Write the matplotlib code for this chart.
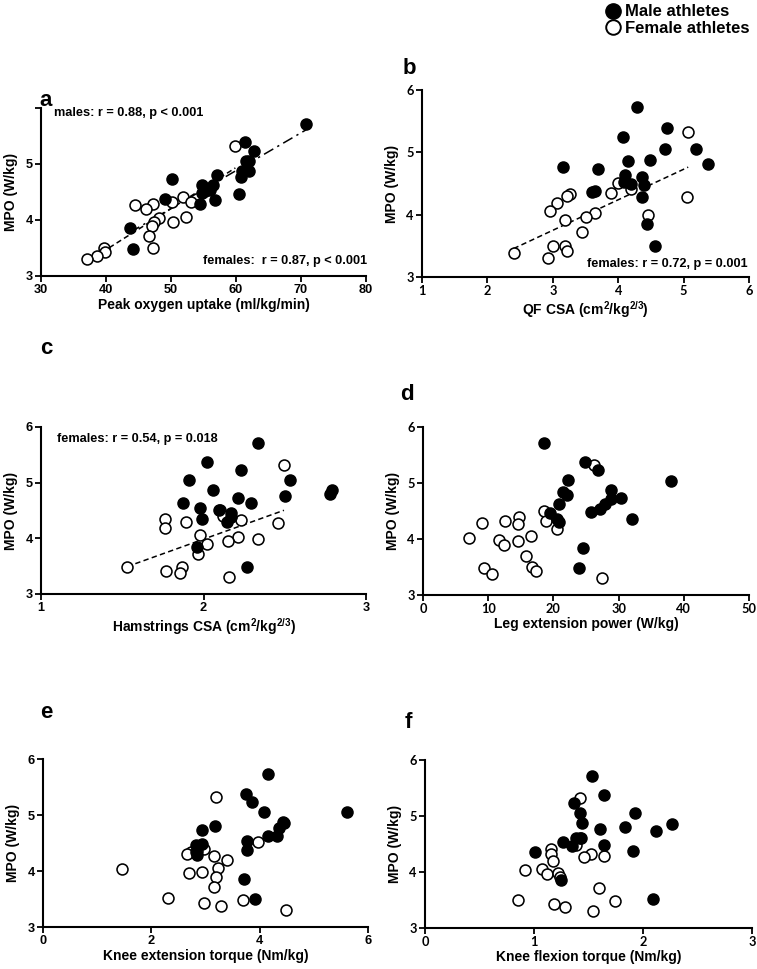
import numpy as np
import matplotlib
matplotlib.use('Agg')
import matplotlib.pyplot as plt
from matplotlib.lines import Line2D

plt.rcParams['font.family'] = ['Liberation Sans', 'DejaVu Sans']
plt.rcParams['font.weight'] = 'bold'
plt.rcParams['mathtext.fontset'] = 'custom'
plt.rcParams['mathtext.rm'] = 'Liberation Sans:bold'
plt.rcParams['mathtext.bf'] = 'Liberation Sans:bold'

# ---------------- data ----------------
# a: Peak oxygen uptake
a_m_x = [70.8, 61.4, 62.7, 61.6, 62.0, 60.9, 62.0, 60.8, 60.5, 57.0, 56.5, 54.7, 56.0, 54.7, 56.7, 54.4, 50.2, 49.1, 43.7, 44.1]
a_m_y = [5.72, 5.39, 5.24, 5.05, 5.05, 4.87, 4.87, 4.76, 4.46, 4.80, 4.63, 4.62, 4.53, 4.49, 4.36, 4.28, 4.73, 4.37, 3.85, 3.49]
a_f_x = [59.9, 51.9, 53.0, 50.2, 44.4, 47.3, 46.2, 52.3, 48.1, 47.4, 47.1, 50.3, 46.6, 47.3, 39.7, 39.9, 38.6, 37.1, 55.3]
a_f_y = [5.32, 4.41, 4.33, 4.33, 4.27, 4.29, 4.19, 4.06, 4.04, 3.97, 3.90, 3.96, 3.71, 3.50, 3.50, 3.42, 3.36, 3.30, 4.51]

# b: QF CSA
b_m_x = [4.29, 4.74, 4.08, 4.71, 5.19, 5.37, 4.15, 4.48, 3.16, 3.69, 4.11, 4.36, 4.09, 4.20, 4.40, 3.60, 3.64, 4.36, 4.44, 4.56]
b_m_y = [5.72, 5.39, 5.24, 5.05, 5.05, 4.81, 4.86, 4.87, 4.76, 4.73, 4.63, 4.61, 4.53, 4.50, 4.47, 4.36, 4.38, 4.29, 3.85, 3.50]
b_f_x = [5.07, 5.05, 4.00, 4.20, 3.89, 3.27, 3.21, 3.07, 2.96, 3.64, 3.50, 3.18, 4.46, 3.45, 3.00, 3.18, 3.21, 2.93, 2.40]
b_f_y = [5.32, 4.28, 4.51, 4.41, 4.34, 4.33, 4.30, 4.19, 4.06, 4.03, 3.96, 3.91, 3.99, 3.72, 3.49, 3.50, 3.42, 3.31, 3.39]

# c: Hamstrings CSA
c_m_x = [2.337, 2.02, 2.23, 1.913, 2.532, 2.056, 2.79, 2.78, 2.50, 2.21, 1.876, 2.29, 1.978, 2.095, 2.17, 2.17, 1.99, 2.147, 1.962, 2.27]
c_m_y = [5.71, 5.38, 5.23, 5.05, 5.05, 4.87, 4.86, 4.80, 4.76, 4.73, 4.63, 4.63, 4.54, 4.51, 4.46, 4.39, 4.35, 4.29, 3.84, 3.49]
c_f_x = [2.495, 2.10, 2.12, 1.763, 1.763, 1.89, 2.23, 2.46, 1.98, 2.21, 2.15, 2.333, 2.02, 1.964, 1.53, 1.868, 1.771, 1.853, 2.159]
c_f_y = [5.32, 4.51, 4.41, 4.34, 4.18, 4.30, 4.33, 4.28, 4.06, 4.03, 3.96, 3.98, 3.90, 3.72, 3.49, 3.49, 3.42, 3.38, 3.30]

# d: Leg extension power
d_m_x = [18.6, 24.9, 26.9, 22.3, 38.0, 21.5, 22.1, 28.8, 30.3, 28.8, 27.9, 20.8, 27.2, 25.8, 19.5, 20.6, 32.1, 24.5, 23.9, 20.8]
d_m_y = [5.71, 5.37, 5.23, 5.05, 5.04, 4.84, 4.79, 4.87, 4.74, 4.72, 4.63, 4.62, 4.54, 4.48, 4.46, 4.35, 4.36, 3.84, 3.49, 4.31]
d_f_x = [26.2, 18.6, 18.9, 20.5, 14.8, 14.5, 12.5, 9.1, 7.1, 11.6, 12.4, 14.5, 16.6, 15.8, 9.4, 10.6, 16.7, 17.3, 27.5]
d_f_y = [5.32, 4.50, 4.32, 4.18, 4.40, 4.26, 4.33, 4.29, 4.02, 3.98, 3.90, 3.96, 4.05, 3.70, 3.49, 3.38, 3.50, 3.42, 3.30]

# e: Knee extension torque
e_m_x = [4.15, 3.745, 3.86, 4.08, 5.62, 4.45, 4.43, 4.35, 3.18, 2.93, 4.15, 4.325, 3.77, 2.93, 2.83, 3.77, 2.82, 2.85, 3.71, 3.92]
e_m_y = [5.73, 5.38, 5.24, 5.05, 5.05, 4.86, 4.87, 4.76, 4.80, 4.73, 4.62, 4.62, 4.54, 4.49, 4.46, 4.37, 4.34, 4.29, 3.86, 3.50]
e_f_x = [3.195, 3.97, 2.975, 2.74, 2.66, 3.16, 3.39, 3.23, 1.466, 2.93, 2.69, 3.195, 3.16, 2.31, 2.98, 3.28, 3.70, 4.48, 2.85]
e_f_y = [5.32, 4.51, 4.40, 4.34, 4.30, 4.26, 4.19, 4.06, 4.03, 3.98, 3.96, 3.90, 3.71, 3.51, 3.43, 3.38, 3.49, 3.31, 4.36]

# f: Knee flexion torque
f_m_x = [1.53, 1.64, 1.37, 1.42, 1.93, 1.44, 2.27, 1.835, 1.61, 2.12, 1.385, 1.43, 1.27, 1.35, 1.64, 1.01, 1.905, 1.25, 2.09, 1.42]
f_m_y = [5.72, 5.38, 5.24, 5.05, 5.05, 4.87, 4.86, 4.80, 4.76, 4.73, 4.61, 4.61, 4.53, 4.46, 4.49, 4.36, 4.37, 3.85, 3.51, 4.60]
f_f_x = [1.425, 1.385, 1.153, 1.156, 1.17, 1.52, 1.46, 1.64, 0.92, 1.07, 1.12, 1.22, 1.24, 1.60, 0.85, 1.18, 1.28, 1.54, 1.74]
f_f_y = [5.32, 4.49, 4.41, 4.33, 4.19, 4.33, 4.27, 4.28, 4.03, 4.05, 3.96, 3.98, 3.91, 3.71, 3.50, 3.43, 3.38, 3.31, 3.49]

panel_letters = ['a', 'b', 'c', 'd', 'e', 'f']
x_labels = ['Peak oxygen uptake (ml/kg/min)',
            r'QF CSA (cm$^{2}$/kg$^{2/3}$)',
            r'Hamstrings CSA (cm$^{2}$/kg$^{2/3}$)',
            'Leg extension power (W/kg)',
            'Knee extension torque (Nm/kg)',
            'Knee flexion torque (Nm/kg)']
y_label = 'MPO (W/kg)'
x_ticks = [[30, 40, 50, 60, 70, 80], [1, 2, 3, 4, 5, 6], [1, 2, 3],
           [0, 10, 20, 30, 40, 50], [0, 2, 4, 6], [0, 1, 2, 3]]
y_ticks = [3, 4, 5, 6]
legend_labels = ['Male athletes', 'Female athletes']

# ---------------- figure ----------------
W, H = 757, 969
fig = plt.figure(figsize=(W / 100, H / 100), dpi=100)

def px_axes(left, top, right, bottom):
    return fig.add_axes([left / W, 1 - bottom / H, (right - left) / W, (bottom - top) / H])

boxes = [(41, 108, 366, 276), (422, 90, 749, 277),
         (41, 427, 366, 594), (423, 427, 749, 595),
         (43, 759, 368, 927), (425, 760, 752, 928)]
letter_pos = [(46, 101), (409, 68), (46, 349), (407, 395), (46, 713), (408, 722)]

males = [(a_m_x, a_m_y), (b_m_x, b_m_y), (c_m_x, c_m_y), (d_m_x, d_m_y), (e_m_x, e_m_y), (f_m_x, f_m_y)]
females = [(a_f_x, a_f_y), (b_f_x, b_f_y), (c_f_x, c_f_y), (d_f_x, d_f_y), (e_f_x, e_f_y), (f_f_x, f_f_y)]

MS = 62
ANN = 9.2
for i, box in enumerate(boxes):
    ax = px_axes(*box)
    fx, fy = females[i]
    mx, my = males[i]
    ax.scatter(fx, fy, s=MS, facecolor='white', edgecolor='black', linewidth=1.15, zorder=3, clip_on=False)
    ax.scatter(mx, my, s=MS, facecolor='black', edgecolor='black', linewidth=1.15, zorder=4, clip_on=False)
    xt = x_ticks[i]
    ax.set_xlim(xt[0], xt[-1])
    ax.set_ylim(3, 6)
    ax.set_xticks(xt)
    ax.set_yticks(y_ticks)
    tick_font = 'Liberation Sans' if i % 2 == 0 else 'Lato'
    if i == 0:
        ax.set_yticklabels(['3', '4', '5', ''])
    for lab in ax.get_xticklabels() + ax.get_yticklabels():
        lab.set_fontfamily(tick_font)
        lab.set_fontweight('bold')
        lab.set_fontsize(9.2)
    for s in ['top', 'right']:
        ax.spines[s].set_visible(False)
    for s in ['left', 'bottom']:
        ax.spines[s].set_linewidth(1.5)
    ax.tick_params(direction='out', length=4, width=1.3, pad=2)
    ax.set_xlabel(x_labels[i], fontsize=10, fontweight='bold', labelpad=1)
    ax.set_ylabel(y_label, fontsize=10, fontweight='bold', labelpad=5)
    fig.text(letter_pos[i][0] / W, 1 - letter_pos[i][1] / H, panel_letters[i],
             fontsize=16, fontweight='bold', ha='center', va='center')

    # regression lines
    if i in (0, 1, 2):
        fxa = np.array(fx); fya = np.array(fy)
        k, b0 = np.polyfit(fxa, fya, 1)
        xs = np.array([fxa.min(), fxa.max()])
        ax.plot(xs, k * xs + b0, color='black', lw=1.1, linestyle=(0, (3.5, 2.2)), zorder=2)
    if i == 0:
        mxa = np.array(mx); mya = np.array(my)
        k, b0 = np.polyfit(mxa, mya, 1)
        xs = np.array([mxa.min(), mxa.max()])
        ax.plot(xs, k * xs + b0, color='black', lw=1.1, linestyle=(0, (7, 3, 1.5, 3)), zorder=2)
        ax.text(0.04, 0.97, 'males: r = 0.88, p < 0.001', transform=ax.transAxes,
                fontsize=ANN, fontweight='bold', ha='left', va='center')
        ax.text(1.005, 0.09, 'females:  r = 0.87, p < 0.001', transform=ax.transAxes,
                fontsize=ANN, fontweight='bold', ha='right', va='center')
    if i == 1:
        ax.text(0.995, 0.07, 'females: r = 0.72, p = 0.001', transform=ax.transAxes,
                fontsize=ANN, fontweight='bold', ha='right', va='center')
    if i == 2:
        ax.text(0.05, 0.93, 'females: r = 0.54, p = 0.018', transform=ax.transAxes,
                fontsize=ANN, fontweight='bold', ha='left', va='center')

handles = [Line2D([], [], marker='o', linestyle='None', markerfacecolor='black', markeredgecolor='black', markersize=11),
           Line2D([], [], marker='o', linestyle='None', markerfacecolor='white', markeredgecolor='black', markeredgewidth=1.4, markersize=10.5)]
fig.legend(handles, legend_labels, loc='upper left', bbox_to_anchor=(596 / W, 1 + 4 / H),
           frameon=False, handletextpad=0.25, labelspacing=0.1, borderpad=0, handlelength=1.0,
           prop={'weight': 'bold', 'size': 12})

fig.savefig('out.png', dpi=100)
